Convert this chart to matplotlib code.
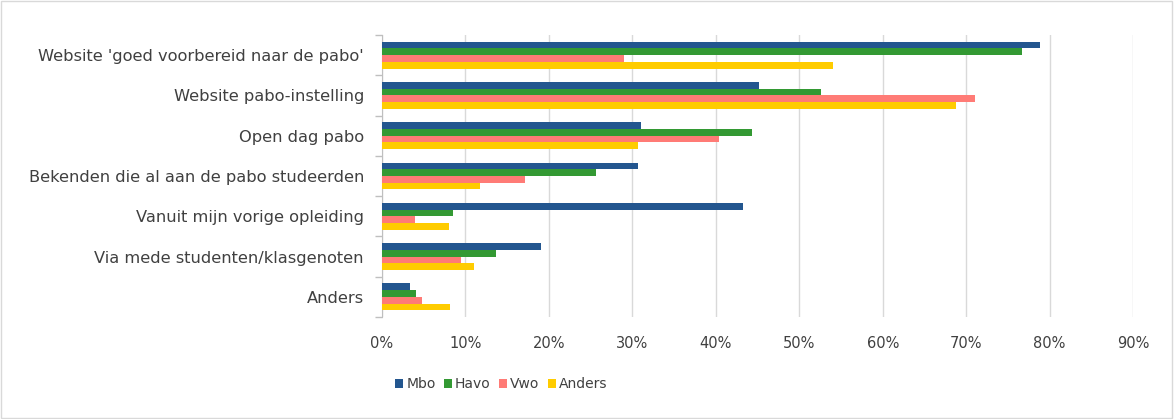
import matplotlib
matplotlib.use('Agg')
import matplotlib.pyplot as plt
import numpy as np
from matplotlib.ticker import PercentFormatter
from matplotlib.patches import Rectangle

categories = ["Website 'goed voorbereid naar de pabo'", "Website pabo-instelling",
              "Open dag pabo", "Bekenden die al aan de pabo studeerden",
              "Vanuit mijn vorige opleiding", "Via mede studenten/klasgenoten", "Anders"]
mbo = [78.9, 45.2, 31.0, 30.7, 43.2, 19.0, 3.3]
havo = [76.7, 52.6, 44.3, 25.7, 8.5, 13.6, 4.1]
vwo = [29.0, 71.1, 40.4, 17.1, 3.9, 9.5, 4.8]
anders = [54.1, 68.8, 30.7, 11.8, 8.0, 11.0, 8.2]
series = ['Mbo', 'Havo', 'Vwo', 'Anders']
colors = ['#23568f', '#339933', '#ff7b76', '#ffcc00']

fig = plt.figure(figsize=(11.74, 4.19), dpi=100)
ax = fig.add_axes([0.3254, 0.2434, 0.6397, 0.6730])

y = np.arange(len(categories))
h = 0.167
for i, (vals, name, c) in enumerate(zip([mbo, havo, vwo, anders], series, colors)):
    ax.barh(y - 1.5 * h + i * h, vals, height=h, color=c, label=name, zorder=3)

ax.set_xlim(0, 90)
ax.set_ylim(len(categories) - 0.5, -0.5)
ax.set_xticks(np.arange(0, 91, 10))
ax.xaxis.set_major_formatter(PercentFormatter(decimals=0))
ax.set_yticks(y)
ax.set_yticklabels(categories)
ax.set_yticks(np.arange(-0.5, len(categories), 1), minor=True)
ax.tick_params(axis='y', which='major', length=0, pad=13, labelsize=11.7, colors='#404040')
ax.tick_params(axis='y', which='minor', length=5, color='#bfbfbf', width=1)
ax.tick_params(axis='x', length=0, pad=14, labelsize=10.5, colors='#404040')
ax.grid(axis='x', color='#d9d9d9', linewidth=1, zorder=0)
for s in ['top', 'right', 'bottom']:
    ax.spines[s].set_visible(False)
ax.spines['left'].set_color('#bfbfbf')

fig.legend(loc='center', bbox_to_anchor=(0.427, 0.083), ncol=4, frameon=False,
           handlelength=0.6, handleheight=0.6, handletextpad=0.2, columnspacing=0.6,
           fontsize=10, labelcolor='#404040')

fig.patches.append(Rectangle((0.001, 0.002), 0.997, 0.995, transform=fig.transFigure,
                             fill=False, edgecolor='#d9d9d9', linewidth=1))

fig.savefig('out.png', dpi=100)
